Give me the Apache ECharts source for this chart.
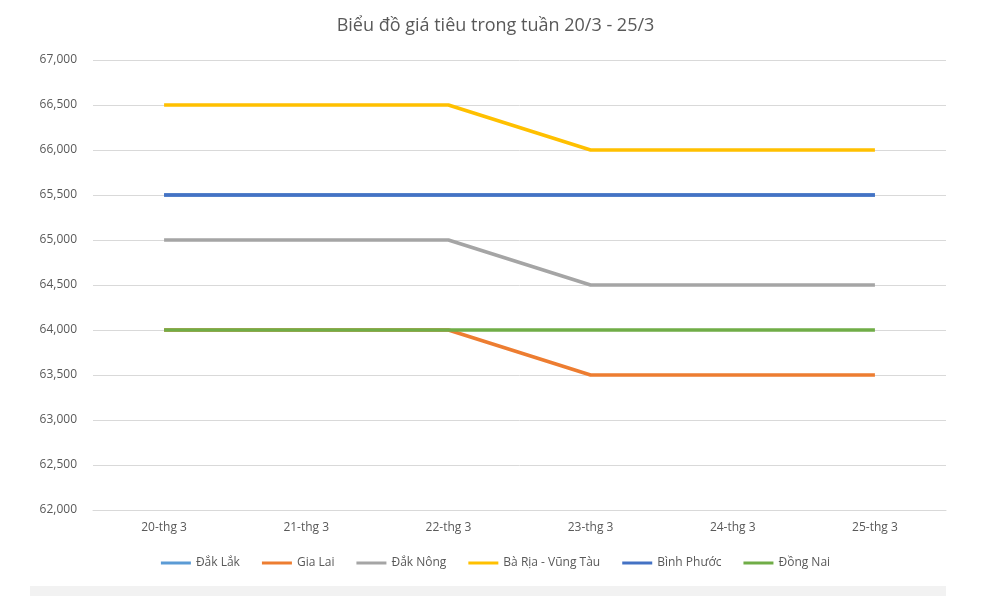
<!DOCTYPE html>
<html><head><meta charset="utf-8">
<script src="https://cdn.jsdelivr.net/npm/echarts@6/dist/echarts.min.js"></script>
<style>html,body{margin:0;padding:0;background:#fff}#c{width:991px;height:596px}</style>
</head><body><div id="c"></div>
<script>
var days = ['20-thg 3','21-thg 3','22-thg 3','23-thg 3','24-thg 3','25-thg 3'];
var dakLak = [65500,65500,65500,65500,65500,65500];
var giaLai = [64000,64000,64000,63500,63500,63500];
var dakNong = [65000,65000,65000,64500,64500,64500];
var baRia = [66500,66500,66500,66000,66000,66000];
var binhPhuoc = [65500,65500,65500,65500,65500,65500];
var dongNai = [64000,64000,64000,64000,64000,64000];

var names = ['Đắk Lắk','Gia Lai','Đắk Nông','Bà Rịa - Vũng Tàu','Bình Phước','Đồng Nai'];
var colors = ['#5b9bd5','#ed7d31','#a5a5a5','#ffc000','#4472c4','#70ad47'];
var datas = [dakLak,giaLai,dakNong,baRia,binhPhuoc,dongNai];

var chart = echarts.init(document.getElementById('c'));
chart.setOption({
	animation:false,
	title:{
		text:'Biểu đồ giá tiêu trong tuần 20/3 - 25/3',
		left:'center',top:12,
		textStyle:{fontFamily:'Open Sans',fontSize:18,fontWeight:'normal',color:'#595959'}
	},
	legend:{
		data:names,bottom:22,itemWidth:30,itemHeight:3,itemGap:22,
		icon:'rect',
		textStyle:{fontFamily:'Open Sans',fontSize:12,color:'#595959'}
	},
	grid:{left:93,right:45,top:60,bottom:86},
	xAxis:{
		type:'category',data:days,boundaryGap:true,
		axisLine:{lineStyle:{color:'#d9d9d9'}},
		axisTick:{show:false},
		axisLabel:{fontFamily:'Open Sans',fontSize:12,color:'#595959',margin:12}
	},
	yAxis:{
		type:'value',min:62000,max:67000,interval:500,
		axisLine:{show:false},axisTick:{show:false},
		splitLine:{lineStyle:{color:'#d9d9d9'}},
		axisLabel:{fontFamily:'Open Sans',fontSize:12,color:'#595959',margin:16}
	},
	series:names.map(function(n,i){
		return {name:n,type:'line',data:datas[i],symbol:'none',
			lineStyle:{width:3.5,color:colors[i]},itemStyle:{color:colors[i]}};
	}),
	graphic:[{type:'rect',left:30,top:586,shape:{width:916,height:10},style:{fill:'#f2f2f2'}}]
});
</script></body></html>
